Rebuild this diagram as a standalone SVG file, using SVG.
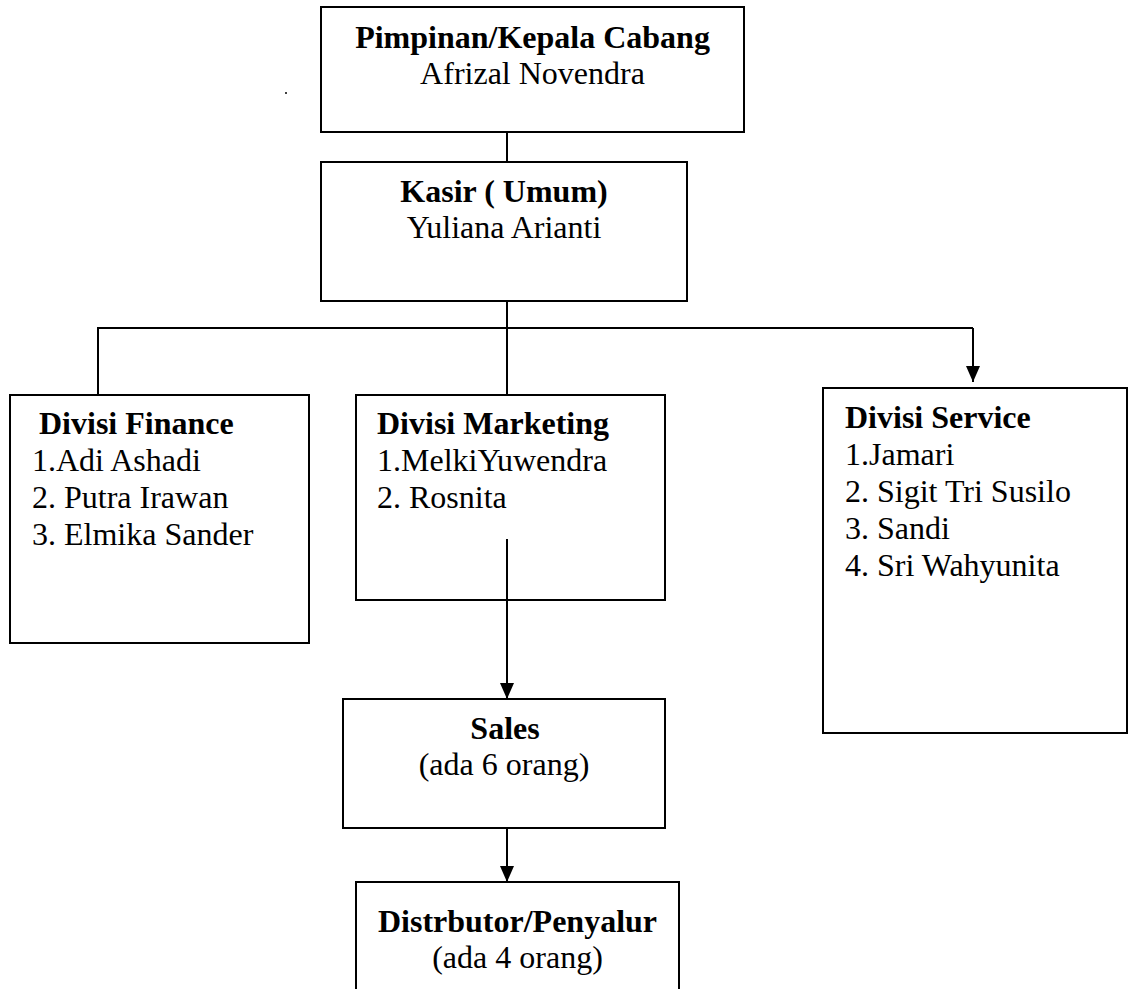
<svg xmlns="http://www.w3.org/2000/svg" width="1128" height="989" viewBox="0 0 1128 989">
<style>
.box{fill:#fff;stroke:#000;stroke-width:2}
.ln{fill:none;stroke:#000;stroke-width:2}
text{font-family:"Liberation Serif","Times New Roman",serif;font-size:32px;fill:#000}
.b{font-weight:bold}
.c{text-anchor:middle}
</style>
<defs>
<marker id="arr" markerUnits="userSpaceOnUse" markerWidth="16" markerHeight="14" viewBox="0 0 16 14" refX="16" refY="7" orient="auto">
<path d="M0,0 L16,7 L0,14 z" fill="#000"/>
</marker>
</defs>
<rect width="1128" height="989" fill="#fff"/>
<circle cx="286" cy="93" r="1" fill="#000"/>
<g id="pimpinan">
<rect class="box" x="321" y="7" width="423" height="125"/>
<text class="b c" x="532.5" y="48">Pimpinan/Kepala Cabang</text>
<text class="c" x="532.5" y="84">Afrizal Novendra</text>
</g>
<g id="kasir">
<rect class="box" x="321" y="162" width="366" height="139"/>
<text class="b c" x="504" y="202">Kasir ( Umum)</text>
<text class="c" x="504" y="238">Yuliana Arianti</text>
</g>
<g id="finance">
<rect class="box" x="10" y="395" width="299" height="248"/>
<text class="b" x="39" y="434">Divisi Finance</text>
<text x="32" y="471">1.Adi Ashadi</text>
<text x="32" y="508">2. Putra Irawan</text>
<text x="32" y="545">3. Elmika Sander</text>
</g>
<g id="marketing">
<rect class="box" x="356" y="395" width="309" height="205"/>
<text class="b" x="377" y="434">Divisi Marketing</text>
<text x="377" y="471">1.MelkiYuwendra</text>
<text x="377" y="508">2. Rosnita</text>
</g>
<g id="service">
<rect class="box" x="823" y="388" width="304" height="345"/>
<text class="b" x="845" y="428">Divisi Service</text>
<text x="845" y="465">1.Jamari</text>
<text x="845" y="502">2. Sigit Tri Susilo</text>
<text x="845" y="539">3. Sandi</text>
<text x="845" y="576">4. Sri Wahyunita</text>
</g>
<g id="sales">
<rect class="box" x="343" y="699" width="322" height="129"/>
<text class="b c" x="505" y="739">Sales</text>
<text class="c" x="504" y="775">(ada 6 orang)</text>
</g>
<g id="distributor">
<rect class="box" x="356" y="882" width="323" height="120"/>
<text class="b c" x="517.5" y="932">Distrbutor/Penyalur</text>
<text class="c" x="517.5" y="968">(ada 4 orang)</text>
</g>
<g id="connectors">
<line class="ln" x1="507" y1="132" x2="507" y2="162"/>
<line class="ln" x1="507" y1="301" x2="507" y2="395"/>
<polyline class="ln" points="98,395 98,328 973,328"/>
<line class="ln" x1="973" y1="328" x2="973" y2="382" marker-end="url(#arr)"/>
<line class="ln" x1="507" y1="539" x2="507" y2="699" marker-end="url(#arr)"/>
<line class="ln" x1="507" y1="828" x2="507" y2="882" marker-end="url(#arr)"/>
</g>
</svg>
